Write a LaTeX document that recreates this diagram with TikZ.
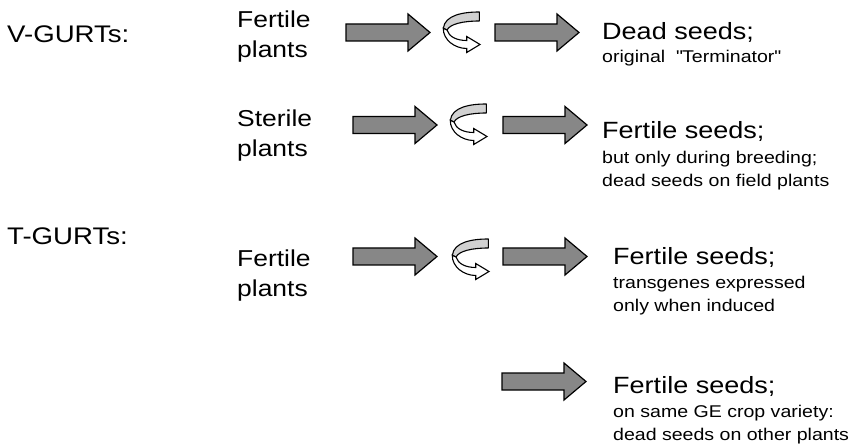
\documentclass[tikz,border=0pt]{standalone}
\usepackage{fontspec}
\setmainfont{Liberation Sans}[FakeStretch=1.15]
\begin{document}
\begin{tikzpicture}[x=1pt,y=-1pt,
  grouplab/.style={anchor=base west,inner sep=0pt,font=\fontsize{24}{30}\selectfont},
  plantlab/.style={anchor=base west,inner sep=0pt,align=left,font=\fontsize{23}{30}\selectfont},
  biglab/.style={anchor=base west,inner sep=0pt,font=\fontsize{23.5}{28}\selectfont},
  sublab/.style={anchor=base west,inner sep=0pt,align=left,font=\fontsize{17}{23}\selectfont},
  arrowbody/.style={draw=black,line width=1.2pt,fill=black!47,line join=miter},
  curlback/.style={draw=black,line width=1.1pt,fill=black!18,line join=round},
  curlfront/.style={draw=black,line width=1.1pt,fill=white,line join=miter},
  pics/bigarrow/.style={code={
    \draw[arrowbody] (0,-8.5) -- (62,-8.5) -- (62,-18.5) -- (84,0) -- (62,18.5) -- (62,8.5) -- (0,8.5) -- cycle;}},
  pics/curl/.style={code={
    \draw[curlback] (36.3,0) .. controls (20,0) and (2,3) .. (0.3,16.3) -- (4,18) .. controls (7,12) and (20,9) .. (36.3,9) -- cycle;
    \draw[curlfront] (0.3,16.3) .. controls (0,28) and (12,36.5) .. (23.7,36.5) -- (23.7,40.5) -- (37,32.5) -- (23.7,24.5) -- (23.7,28.5) .. controls (14,28.5) and (6,25) .. (4,18) -- cycle;}}
]
\useasboundingbox (0,0) rectangle (851,446);

% labels (base anchor of multi-line nodes = last line)
\node[grouplab] (vg) at (7,43) {V-GURTs:};
\node[grouplab] (tg) at (7,245) {T-GURTs:};
\node[plantlab] (p1) at (237,58) {Fertile\\plants};
\node[plantlab] (p2) at (237,157) {Sterile\\plants};
\node[plantlab] (p3) at (237,297) {Fertile\\plants};

% row 1
\pic (a1) at (346,32.5) {bigarrow};
\pic (c1) at (443,12) {curl};
\pic (b1) at (495,32.5) {bigarrow};
% row 2
\pic (a2) at (353,125) {bigarrow};
\pic (c2) at (450,104) {curl};
\pic (b2) at (503,125) {bigarrow};
% row 3
\pic (a3) at (353,256.5) {bigarrow};
\pic (c3) at (452,239) {curl};
\pic (b3) at (503,256.5) {bigarrow};
% row 4
\pic (b4) at (502,381.5) {bigarrow};

% results
\node[biglab] (r1) at (602,40) {Dead seeds;};
\node[sublab] (s1) at (602,63) {original\ \ \textquotedbl Terminator\textquotedbl};
\node[biglab] (r2) at (602,139) {Fertile seeds;};
\node[sublab] (s2) at (602,187) {but only during breeding;\\dead seeds on field plants};
\node[biglab] (r3) at (613,265) {Fertile seeds;};
\node[sublab] (s3) at (613,312) {transgenes expressed\\only when induced};
\node[biglab] (r4) at (613,393) {Fertile seeds;};
\node[sublab] (s4) at (613,440) {on same GE crop variety:\\dead seeds on other plants};
\end{tikzpicture}
\end{document}
